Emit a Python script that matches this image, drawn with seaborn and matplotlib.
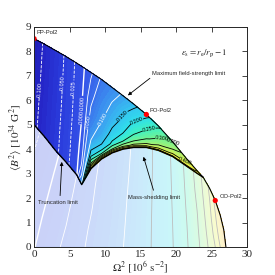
import numpy as np
import matplotlib
matplotlib.use("Agg")
import matplotlib.pyplot as plt
from matplotlib.colors import LinearSegmentedColormap, Normalize
import seaborn as sns

# --- data -----------------------------------------------------------------
# upper (bright) sheet, sampled in columns of Omega^2 [1e6 s^-2]
X_A = [0, 1.5, 3, 4.5, 6, 6.7, 8, 9.5, 11, 12.5, 14, 15.8, 17.5, 19.5, 21.5, 23, 23.8]
# max field-strength limit, then the outer limit  [1e34 G^2]
TOP_A = [8.52, 8.29, 8.04, 7.79, 7.52, 7.39, 7.14, 6.85, 6.52, 6.19, 5.85, 5.42, 4.95, 4.3, 3.6, 3.1, 2.85]
# truncation limit (x <= 6.7), then the mass-shedding limit
LOW_A = [5.0, 4.5, 3.95, 3.47, 2.95, 2.55, 3.2, 3.6, 3.85, 4.0, 4.07, 4.07, 3.95, 3.7, 3.3, 3.0, 2.85]
# outer limit below the point where the two edges meet
X_OUT = [23.8, 24.7, 25.5, 26.2, 26.7, 27.0]
Y_OUT = [2.85, 2.4, 1.9, 1.3, 0.7, 0.0]

# ellipticity on the upper sheet, per column, from lower edge (s=0) to upper edge (s=1)
S_A = [0, 0.06, 0.15, 0.3, 0.5, 0.75, 1.0]
EPS_A = [
    [-0.107, -0.108, -0.109, -0.111, -0.114, -0.117, -0.120],
    [-0.082, -0.083, -0.084, -0.086, -0.089, -0.092, -0.095],
    [-0.057, -0.058, -0.059, -0.061, -0.064, -0.067, -0.070],
    [-0.032, -0.033, -0.034, -0.036, -0.039, -0.042, -0.045],
    [-0.005, -0.008, -0.010, -0.012, -0.015, -0.018, -0.020],
    [0.120, 0.060, 0.030, 0.012, 0.002, -0.004, -0.008],
    [0.480, 0.300, 0.170, 0.100, 0.065, 0.040, 0.020],
    [0.480, 0.260, 0.160, 0.120, 0.097, 0.075, 0.055],
    [0.480, 0.300, 0.210, 0.165, 0.130, 0.103, 0.080],
    [0.480, 0.330, 0.250, 0.200, 0.165, 0.135, 0.105],
    [0.480, 0.360, 0.300, 0.250, 0.215, 0.170, 0.135],
    [0.480, 0.390, 0.330, 0.290, 0.255, 0.220, 0.185],
    [0.480, 0.420, 0.370, 0.330, 0.300, 0.270, 0.240],
    [0.480, 0.440, 0.410, 0.380, 0.350, 0.325, 0.300],
    [0.480, 0.460, 0.440, 0.420, 0.400, 0.390, 0.380],
    [0.480, 0.475, 0.470, 0.465, 0.460, 0.455, 0.450],
    [0.480, 0.480, 0.480, 0.480, 0.480, 0.480, 0.480],
]

# lower (washed-out) sheet, per column, from y=0 (s=0) up to its edge (s=1)
S_B = [0, 0.25, 0.5, 0.75, 1.0]
EPS_B = [
    [-0.001, -0.008, -0.016, -0.024, -0.032],
    [0.010, 0.003, -0.004, -0.012, -0.019],
    [0.020, 0.014, 0.008, 0.002, -0.005],
    [0.031, 0.025, 0.020, 0.015, 0.010],
    [0.041, 0.037, 0.033, 0.029, 0.025],
    [0.046, 0.043, 0.040, 0.036, 0.033],
    [0.057, 0.053, 0.048, 0.045, 0.041],
    [0.071, 0.067, 0.062, 0.057, 0.053],
    [0.085, 0.081, 0.077, 0.073, 0.069],
    [0.099, 0.096, 0.093, 0.089, 0.086],
    [0.118, 0.114, 0.111, 0.108, 0.105],
    [0.140, 0.139, 0.137, 0.135, 0.134],
    [0.165, 0.165, 0.165, 0.165, 0.165],
    [0.198, 0.200, 0.202, 0.204, 0.206],
    [0.245, 0.249, 0.254, 0.259, 0.264],
    [0.288, 0.295, 0.302, 0.313, 0.323],
    [0.318, 0.330, 0.341, 0.353, 0.365],
    [0.360, 0.372, 0.384, 0.396, 0.411],
    [0.400, 0.417, 0.434, 0.451, 0.471],
    [0.450, 0.467, 0.483, 0.500, 0.517],
    [0.508, 0.517, 0.525, 0.533, 0.542],
    [0.550, 0.550, 0.550, 0.550, 0.550],
]

LEVELS = [-0.1, -0.05, -0.025, 0.0, 0.025, 0.05, 0.1, 0.15, 0.2, 0.25, 0.3, 0.35, 0.4, 0.45]

MODELS = ["PP-Pol2", "PO-Pol2", "OO-Pol2"]
MODEL_X = [0.0, 15.8, 25.5]
MODEL_Y = [8.52, 5.42, 1.9]

# --- style ----------------------------------------------------------------
sns.set_style("ticks")
plt.rcParams["font.family"] = ["Liberation Serif", "DejaVu Serif"]
plt.rcParams["mathtext.fontset"] = "stix"
SANS = ["Liberation Sans", "DejaVu Sans"]

norm = Normalize(-0.13, 0.60)
stops = [(-0.13, "#1c1cae"), (-0.10, "#2424c6"), (-0.05, "#2a3cdc"), (0.00, "#3452e8"),
         (0.05, "#3a70ec"), (0.10, "#3c9cf0"), (0.15, "#34c6f0"), (0.20, "#30e0ea"),
         (0.25, "#40f0c4"), (0.30, "#70f294"), (0.38, "#c0f060"), (0.45, "#f0f03e"),
         (0.52, "#f6c838"), (0.60, "#f29a30")]
cmap = LinearSegmentedColormap.from_list("eps", [(norm(v), c) for v, c in stops])
fill_levels = np.linspace(-0.13, 0.60, 74)
line_colors = ["white" if v <= 0.1 else "black" for v in LEVELS]
line_styles = ["--" if v < 0 else "-" for v in LEVELS]
line_widths = [1.0 if v == 0 else 0.6 for v in LEVELS]


def sheet(xc, low, top, s, eps):
    xc, low, top, s = (np.asarray(a, float) for a in (xc, low, top, s))
    X = np.tile(xc, (len(s), 1))
    Y = low[None, :] + s[:, None] * (top - low)[None, :]
    return X, Y, np.asarray(eps, float).T


fig = plt.figure(figsize=(2.75, 2.75), dpi=100)
ax = fig.add_axes([0.124, 0.102, 0.775, 0.8])

# lower sheet, washed out with white
xb = X_A + X_OUT[1:]
top_b = LOW_A + Y_OUT[1:]
Xb, Yb, Zb = sheet(xb, np.zeros(len(xb)), top_b, S_B, EPS_B)
ax.contourf(Xb, Yb, Zb, levels=fill_levels, cmap=cmap, norm=norm, extend="both", zorder=1)
ax.contour(Xb, Yb, Zb, levels=LEVELS, colors=line_colors, linestyles=line_styles,
           linewidths=line_widths, zorder=2)
ax.fill([0] + xb, [0] + top_b, color="white", alpha=0.74, lw=0, zorder=2.5)

# upper sheet
Xa, Ya, Za = sheet(X_A, LOW_A, TOP_A, S_A, EPS_A)
ax.contourf(Xa, Ya, Za, levels=fill_levels, cmap=cmap, norm=norm, extend="both", zorder=3)
cs = ax.contour(Xa, Ya, Za, levels=LEVELS, colors=line_colors, linestyles=line_styles,
                linewidths=line_widths, zorder=3.5)
label_pos = [(1.3, 6.4), (3.8, 6.7), (5.1, 6.5), (6.2, 5.9), (6.7, 5.3), (7.6, 5.1),
             (9.9, 5.2), (12.7, 5.3), (14.5, 5.1), (16.2, 4.8), (18.0, 4.5), (19.6, 4.2),
             (21.5, 3.6)]
texts = ax.clabel(cs, fmt="%.3f", fontsize=4.0, manual=label_pos, inline=True, inline_spacing=1)
for t in texts:
    t.set_fontfamily(SANS)
    t.set_color("white" if float(t.get_text()) <= 0.1 else "black")
    t.set_zorder(6)

# edges of the domain
ax.plot(X_A + X_OUT[1:], TOP_A + Y_OUT[1:], color="black", lw=0.8, zorder=4)
ax.plot(X_A, LOW_A, color="black", lw=1.0, zorder=4)

sns.scatterplot(x=MODEL_X, y=MODEL_Y, color="red", s=14, edgecolor="none", ax=ax,
                zorder=5, legend=False)
name_pos = [(0.4, 8.78), (16.3, 5.6), (26.2, 2.07)]
for name, (tx, ty) in zip(MODELS, name_pos):
    ax.text(tx, ty, name, fontsize=4.2, family=SANS, va="center", ha="left", zorder=6)

arrow = dict(arrowstyle="-|>", color="black", lw=0.6, mutation_scale=5, shrinkA=0, shrinkB=0)
notes = [("Maximum field-strength limit", (16.6, 7.1), (16.3, 6.9), (13.2, 6.2)),
         ("Truncation limit", (0.6, 1.83), (3.66, 2.1), (3.9, 3.48)),
         ("Mass-shedding limit", (13.2, 2.04), (16.8, 2.32), (15.4, 3.69))]
for txt, tpos, tail, head in notes:
    ax.text(*tpos, txt, fontsize=4.2, family=SANS, va="center", ha="left", zorder=6)
    ax.annotate("", xy=head, xytext=tail, arrowprops=arrow, zorder=6)

ax.text(23.9, 7.94, r"$\epsilon_{\rm s} = r_{\rm e}/r_{\rm p} - 1$", fontsize=6.5,
        ha="center", va="center", zorder=6)

ax.set_xlim(0, 30)
ax.set_ylim(0, 9)
ax.set_xticks(np.arange(0, 31, 5))
ax.set_yticks(np.arange(0, 10, 1))
ax.tick_params(direction="in", top=True, right=True, length=3.5, width=0.6,
               labelsize=8, pad=2)
for sp in ax.spines.values():
    sp.set_linewidth(0.7)
    sp.set_zorder(7)
ax.set_xlabel(r"$\Omega^2\ [10^6\ \mathrm{s}^{-2}]$", fontsize=8, labelpad=1)
ax.set_ylabel(r"$\langle B^2\rangle\ [10^{34}\ \mathrm{G}^2]$", fontsize=8, labelpad=1)

fig.savefig("out.png", dpi=100)
